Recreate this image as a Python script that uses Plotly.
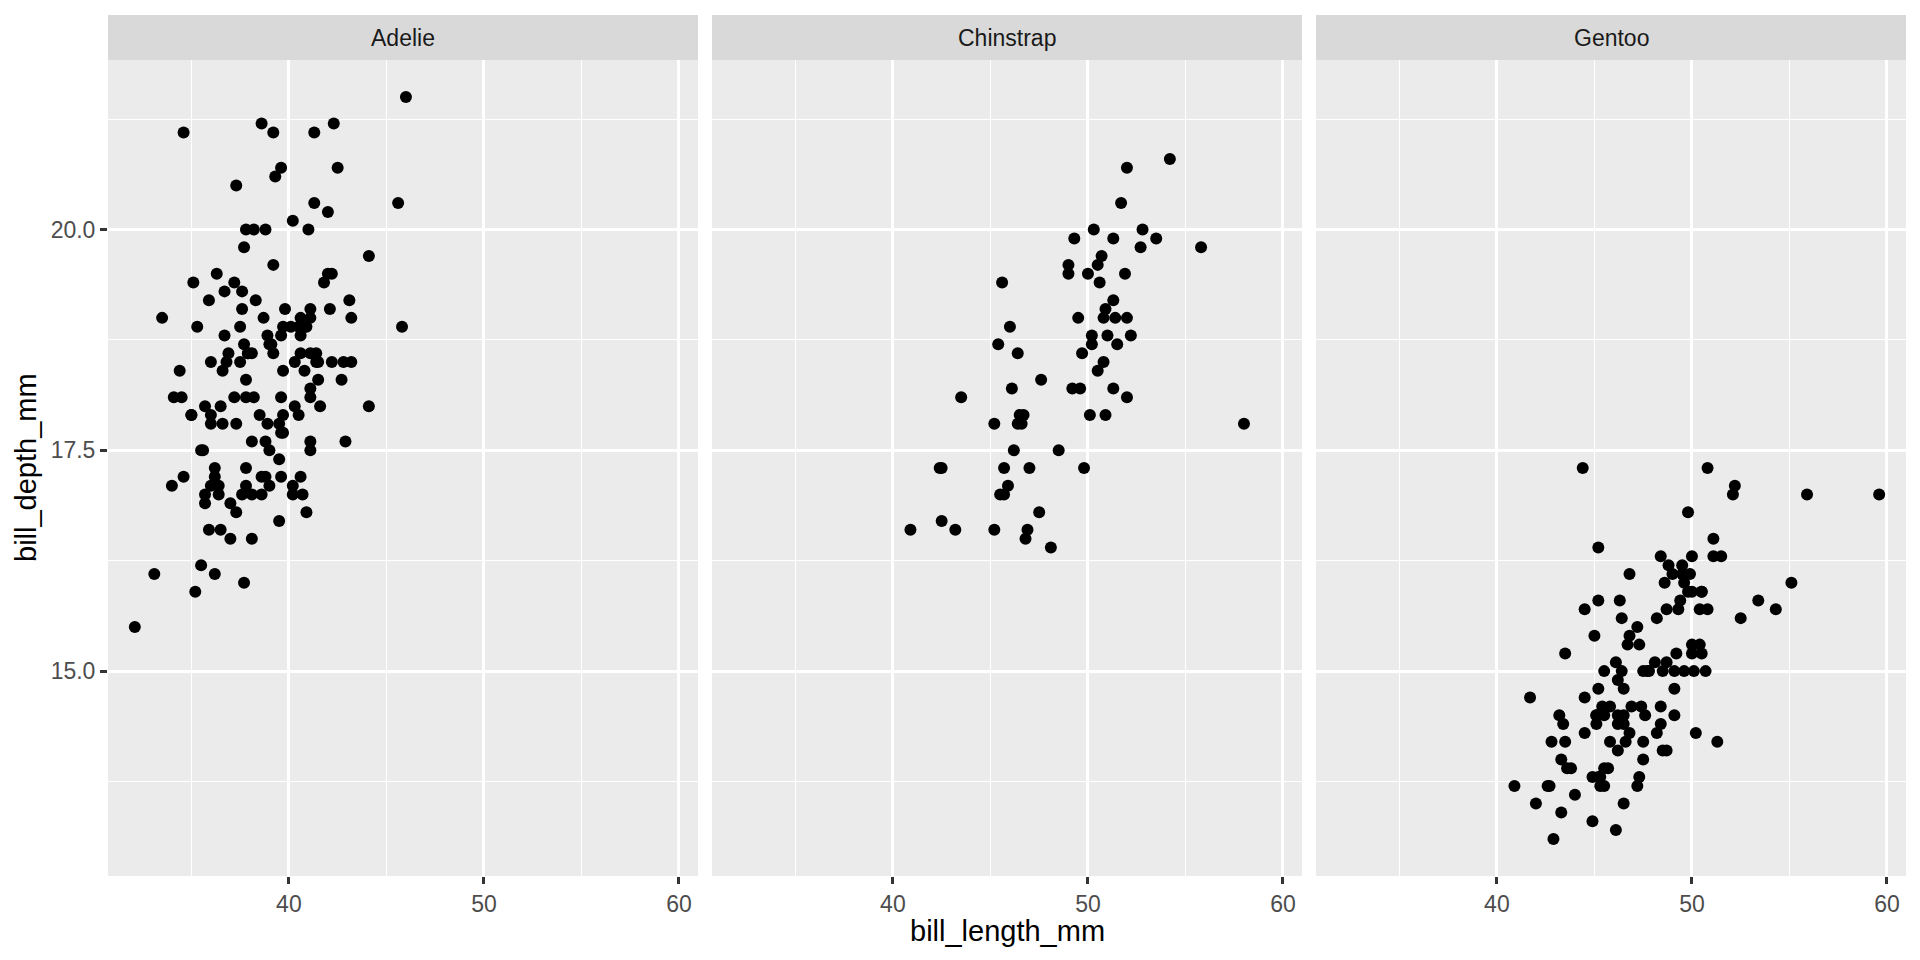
import plotly.graph_objects as go

# ---- data ----
species = ["Adelie", "Chinstrap", "Gentoo"]

adelie_bill_length = [39.1, 39.5, 40.3, 36.7, 39.3, 38.9, 39.2, 34.1, 42.0, 37.8, 37.8, 41.1, 38.6, 34.6, 36.6, 38.7,
    42.5, 34.4, 46.0, 37.8, 37.7, 35.9, 38.2, 38.8, 35.3, 40.6, 40.5, 37.9, 40.5, 39.5, 37.2, 39.5, 40.9, 36.4, 39.2,
    38.8, 42.2, 37.6, 39.8, 36.5, 40.8, 36.0, 44.1, 37.0, 39.6, 41.1, 37.5, 36.0, 42.3, 39.6, 40.1, 35.0, 42.0, 34.5,
    41.4, 39.0, 40.6, 36.5, 37.6, 35.7, 41.3, 37.6, 41.1, 36.4, 41.6, 35.5, 41.1, 35.9, 41.8, 33.5, 39.7, 39.6, 45.8,
    35.5, 42.8, 40.9, 37.2, 36.2, 42.1, 34.6, 42.9, 36.7, 35.1, 37.3, 41.3, 36.3, 36.9, 38.3, 38.9, 35.7, 41.1, 34.0,
    39.6, 36.2, 40.8, 38.1, 40.3, 33.1, 43.2, 35.0, 41.0, 37.7, 37.8, 37.9, 39.7, 38.6, 38.2, 38.1, 43.2, 38.1, 45.6,
    39.7, 42.2, 39.6, 42.7, 38.6, 37.3, 35.7, 41.1, 36.2, 37.7, 40.2, 41.4, 35.2, 40.6, 38.8, 41.5, 39.0, 44.1, 38.5,
    43.1, 36.8, 37.5, 38.1, 41.1, 35.6, 40.2, 37.0, 39.7, 40.2, 40.6, 32.1, 40.7, 37.3, 39.0, 39.2, 36.6, 36.0, 37.8,
    36.0, 41.5]
adelie_bill_depth = [18.7, 17.4, 18.0, 19.3, 20.6, 17.8, 19.6, 18.1, 20.2, 17.1, 17.3, 17.6, 21.2, 21.1, 17.8, 19.0,
    20.7, 18.4, 21.5, 18.3, 18.7, 19.2, 18.1, 17.2, 18.9, 18.6, 17.9, 18.6, 18.9, 16.7, 18.1, 17.8, 18.9, 17.0, 21.1,
    20.0, 18.5, 19.3, 19.1, 18.0, 18.4, 18.5, 19.7, 16.9, 18.8, 19.0, 18.9, 17.9, 21.2, 17.7, 18.9, 17.9, 19.5, 18.1,
    18.6, 17.5, 18.8, 16.6, 19.1, 16.9, 21.1, 17.0, 18.2, 17.1, 18.0, 16.2, 19.1, 16.6, 19.4, 19.0, 18.4, 17.2, 18.9,
    17.5, 18.5, 16.8, 19.4, 16.1, 19.1, 17.2, 17.6, 18.8, 19.4, 17.8, 20.3, 19.5, 18.6, 19.2, 18.8, 18.0, 18.1, 17.1,
    18.1, 17.3, 18.9, 18.6, 18.5, 16.1, 18.5, 17.9, 20.0, 16.0, 20.0, 18.6, 18.9, 17.2, 20.0, 17.0, 19.0, 16.5, 20.3,
    17.7, 19.5, 20.7, 18.3, 17.0, 20.5, 17.0, 18.6, 17.2, 19.8, 17.0, 18.5, 15.9, 19.0, 17.6, 18.3, 17.1, 18.0, 17.9,
    19.2, 18.5, 18.5, 17.6, 17.5, 17.5, 20.1, 16.5, 17.9, 17.1, 17.2, 15.5, 17.0, 16.8, 18.7, 18.6, 18.4, 17.8, 18.1,
    17.1, 18.5]

chinstrap_bill_length = [46.5, 50.0, 51.3, 45.4, 52.7, 45.2, 46.1, 51.3, 46.0, 51.3, 46.6, 51.7, 47.0, 52.0, 45.9,
    50.5, 50.3, 58.0, 46.4, 49.2, 42.4, 48.5, 43.2, 50.6, 46.7, 52.0, 50.5, 49.5, 46.4, 52.8, 40.9, 54.2, 42.5, 51.0,
    49.7, 47.5, 47.6, 52.0, 46.9, 53.5, 49.0, 46.2, 50.9, 45.5, 50.9, 50.8, 50.1, 49.0, 51.5, 49.8, 48.1, 51.4, 45.7,
    50.7, 42.5, 52.2, 45.2, 49.3, 50.2, 45.6, 51.9, 46.8, 45.7, 55.8, 43.5, 49.6, 50.8, 50.2]
chinstrap_bill_depth = [17.9, 19.5, 19.2, 18.7, 19.8, 17.8, 18.2, 18.2, 18.9, 19.9, 17.8, 20.3, 17.3, 18.1, 17.1,
    19.6, 20.0, 17.8, 18.6, 18.2, 17.3, 17.5, 16.6, 19.4, 17.9, 19.0, 18.4, 19.0, 17.8, 20.0, 16.6, 20.8, 16.7, 18.8,
    18.6, 16.8, 18.3, 20.7, 16.6, 19.9, 19.5, 17.5, 19.1, 17.0, 17.9, 18.5, 17.9, 19.6, 18.7, 17.3, 16.4, 19.0, 17.3,
    19.7, 17.3, 18.8, 16.6, 19.9, 18.8, 19.4, 19.5, 16.5, 17.0, 19.8, 18.1, 18.2, 19.0, 18.7]

gentoo_bill_length = [46.1, 50.0, 48.7, 50.0, 47.6, 46.5, 45.4, 46.7, 43.3, 46.8, 40.9, 49.0, 45.5, 48.4, 45.8, 49.3,
    42.0, 49.2, 46.2, 48.7, 50.2, 45.1, 46.5, 46.3, 42.9, 46.1, 44.5, 47.8, 48.2, 50.0, 47.3, 42.8, 45.1, 59.6, 49.1,
    48.4, 42.6, 44.4, 44.0, 48.7, 42.7, 49.6, 45.3, 49.6, 50.5, 43.6, 45.5, 50.5, 44.9, 45.2, 46.6, 48.5, 45.1, 50.1,
    46.5, 45.0, 43.8, 45.5, 43.2, 50.4, 45.3, 46.2, 45.7, 54.3, 45.8, 49.8, 46.2, 49.5, 43.5, 50.7, 47.7, 46.4, 48.2,
    46.5, 46.4, 48.6, 47.5, 51.1, 45.2, 45.2, 49.1, 52.5, 47.4, 50.0, 44.9, 50.8, 43.4, 51.3, 47.5, 52.1, 47.5, 52.2,
    45.5, 49.5, 44.5, 50.8, 49.4, 46.9, 48.4, 51.1, 48.5, 55.9, 47.2, 49.1, 47.3, 46.8, 41.7, 53.4, 43.3, 48.1, 50.5,
    49.8, 43.5, 51.5, 46.2, 55.1, 44.5, 48.8, 47.2, 46.8, 50.4, 45.2, 49.9]
gentoo_bill_depth = [13.2, 16.3, 14.1, 15.2, 14.5, 13.5, 14.6, 15.3, 13.4, 15.4, 13.7, 16.1, 13.7, 14.6, 14.6, 15.7,
    13.5, 15.2, 14.5, 15.1, 14.3, 14.5, 14.5, 15.8, 13.1, 15.1, 14.3, 15.0, 14.3, 15.3, 15.3, 14.2, 14.5, 17.0, 14.8,
    16.3, 13.7, 17.3, 13.6, 15.7, 13.7, 16.0, 13.7, 15.0, 15.9, 13.9, 13.9, 15.9, 13.3, 15.8, 14.2, 14.1, 14.4, 15.0,
    14.4, 15.4, 13.9, 15.0, 14.5, 15.3, 13.8, 14.9, 13.9, 15.7, 14.2, 16.8, 14.4, 16.2, 14.2, 15.0, 15.0, 15.6, 15.6,
    14.8, 15.0, 16.0, 14.2, 16.3, 13.8, 16.4, 14.5, 15.6, 14.6, 15.9, 13.8, 17.3, 14.4, 14.2, 14.0, 17.0, 15.0, 17.1,
    14.5, 16.1, 14.7, 15.7, 15.8, 14.6, 14.4, 16.5, 15.0, 17.0, 15.5, 15.0, 13.8, 16.1, 14.7, 15.8, 14.0, 15.1, 15.2,
    15.9, 15.2, 16.3, 14.1, 16.0, 15.7, 16.2, 13.7, 14.3, 15.7, 14.8, 16.1]

x_tick_vals = [40, 50, 60]
x_tick_text = ["40", "50", "60"]
y_tick_vals = [15.0, 17.5, 20.0]
y_tick_text = ["15.0", "17.5", "20.0"]
x_title = "bill_length_mm"
y_title = "bill_depth_mm"

series = [
    (adelie_bill_length, adelie_bill_depth),
    (chinstrap_bill_length, chinstrap_bill_depth),
    (gentoo_bill_length, gentoo_bill_depth),
]

# ---- layout geometry (screen pixels; the page body adds an 8px margin) ----
OFF = 8
W, H = 1912, 952
FONT = "Liberation Sans, Arial, Helvetica, sans-serif"
panel_px = [(108, 698), (712, 1302), (1316, 1906)]
panel_top, panel_bot = 60, 876
strip_top = 15


def px(x):
    return (x - OFF) / W


def py(y):
    return 1 - (y - OFF) / H


all_x = adelie_bill_length + chinstrap_bill_length + gentoo_bill_length
all_y = adelie_bill_depth + chinstrap_bill_depth + gentoo_bill_depth
xr = [min(all_x) - 0.05 * (max(all_x) - min(all_x)), max(all_x) + 0.05 * (max(all_x) - min(all_x))]
yr = [min(all_y) - 0.05 * (max(all_y) - min(all_y)), max(all_y) + 0.05 * (max(all_y) - min(all_y))]

ydom = [py(panel_bot), py(panel_top)]

fig = go.Figure()
layout = dict(
    width=W, height=H,
    margin=dict(l=0, r=0, t=0, b=0),
    paper_bgcolor="white",
    plot_bgcolor="#EBEBEB",
    showlegend=False,
    font=dict(family=FONT, color="#4D4D4D", size=23),
    shapes=[], annotations=[],
)

GRID = "#FFFFFF"
for i, (sp, (xs, ys)) in enumerate(zip(species, series)):
    idx = "" if i == 0 else str(i + 1)
    fig.add_trace(go.Scatter(
        x=xs, y=ys, mode="markers",
        marker=dict(color="black", size=12, line=dict(width=0)),
        xaxis="x" + idx, yaxis="y" + idx, name=sp, hoverinfo="x+y",
    ))
    x0, x1 = panel_px[i]
    layout["xaxis" + idx] = dict(
        domain=[px(x0), px(x1)], anchor="y" + idx, range=xr,
        tickmode="array", tickvals=x_tick_vals, ticktext=x_tick_text,
        showgrid=True, gridcolor=GRID, gridwidth=2.8, zeroline=False,
        ticks="outside", ticklen=7, tickwidth=2.8, tickcolor="#333333",
        tickfont=dict(family=FONT, size=23, color="#4D4D4D"),
        minor=dict(tickmode="array", tickvals=[35, 45, 55], showgrid=True,
                   gridcolor=GRID, gridwidth=1.4, ticks=""),
        showline=False, fixedrange=True,
    )
    ydict = dict(
        domain=ydom, anchor="x" + idx, range=yr,
        tickmode="array", tickvals=y_tick_vals, ticktext=y_tick_text,
        showgrid=True, gridcolor=GRID, gridwidth=2.8, zeroline=False,
        minor=dict(tickmode="array", tickvals=[13.75, 16.25, 18.75, 21.25], showgrid=True,
                   gridcolor=GRID, gridwidth=1.4, ticks=""),
        showline=False, fixedrange=True,
    )
    if i == 0:
        ydict.update(ticks="outside", ticklen=7, tickwidth=2.8, tickcolor="#333333",
                     tickfont=dict(family=FONT, size=23, color="#4D4D4D"),
                     showticklabels=True)
    else:
        ydict.update(ticks="", showticklabels=False, matches="y")
    layout["yaxis" + idx] = ydict

    # facet strip
    layout["shapes"].append(dict(
        type="rect", xref="paper", yref="paper",
        x0=px(x0), x1=px(x1), y0=py(panel_top), y1=py(strip_top),
        fillcolor="#D9D9D9", line=dict(width=0), layer="below",
    ))
    layout["annotations"].append(dict(
        text=sp, xref="paper", yref="paper",
        x=px((x0 + x1) / 2), y=py((panel_top + strip_top) / 2),
        xanchor="center", yanchor="middle", showarrow=False,
        font=dict(family=FONT, size=23, color="#1A1A1A"),
    ))

# axis titles
layout["annotations"].append(dict(
    text=x_title, xref="paper", yref="paper",
    x=px((panel_px[0][0] + panel_px[2][1]) / 2), y=py(931),
    xanchor="center", yanchor="middle", showarrow=False,
    font=dict(family=FONT, size=29, color="black"),
))
layout["annotations"].append(dict(
    text=y_title, xref="paper", yref="paper",
    x=px(26), y=py((panel_top + panel_bot) / 2),
    xanchor="center", yanchor="middle", showarrow=False, textangle=-90,
    font=dict(family=FONT, size=29, color="black"),
))

fig.update_layout(**layout)
fig.write_html("out.html")
